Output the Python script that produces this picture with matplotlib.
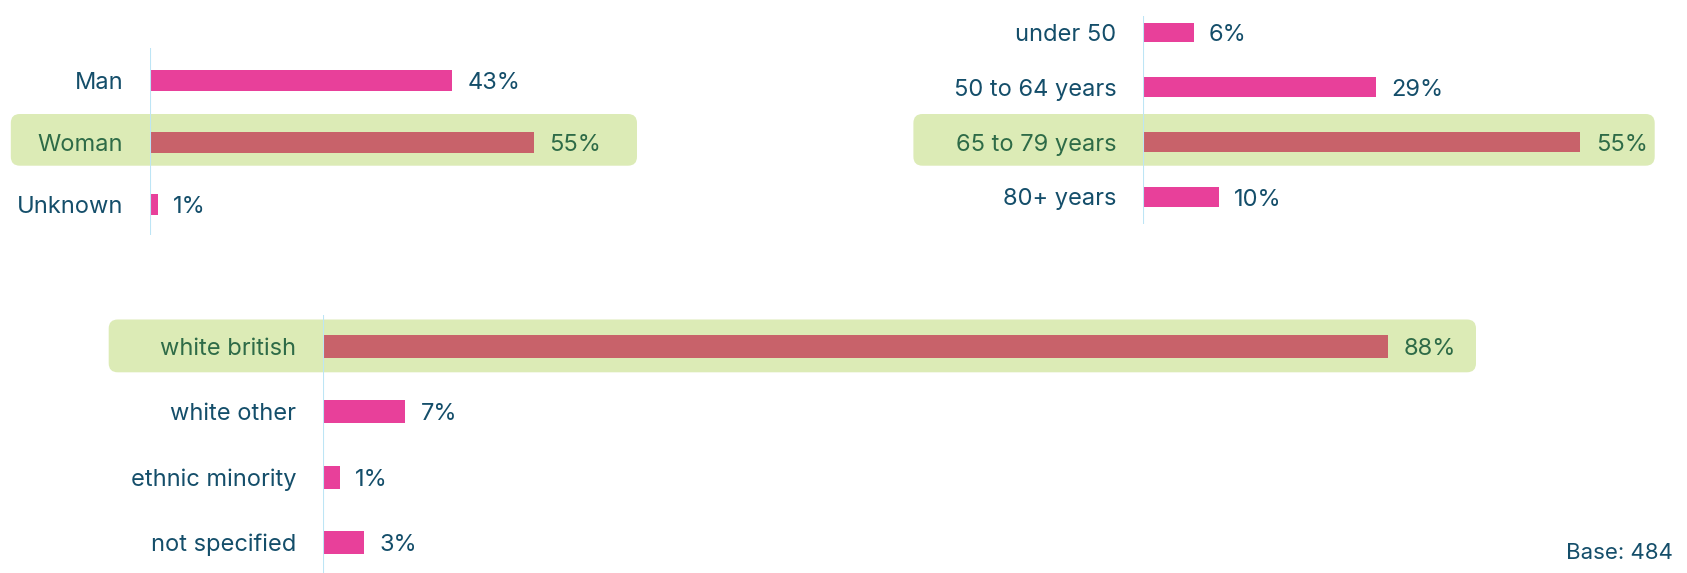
import matplotlib
matplotlib.use("Agg")
import matplotlib.pyplot as plt
from matplotlib.patches import FancyBboxPatch
from matplotlib.transforms import IdentityTransform

plt.rcParams['font.family'] = ['Inter', 'DejaVu Sans']

# ---- data ----
gender_cats = ["Man", "Woman", "Unknown"]
gender_vals = [43.2, 54.9, 1.2]
gender_hl = 1

age_cats = ["under 50", "50 to 64 years", "65 to 79 years", "80+ years"]
age_vals = [6.4, 29.3, 55.0, 9.6]
age_hl = 2

eth_cats = ["white british", "white other", "ethnic minority", "not specified"]
eth_vals = [88.0, 6.8, 1.4, 3.4]
eth_hl = 0

base_text = "Base: 484"

# ---- style ----
PINK = '#E8409A'
HLBAR = '#C8626A'
HLBG = '#DCEBB6'
TXT = '#144E6A'
HLTXT = '#2E6B47'
AXLINE = '#BDE5F5'
FS = 17

W, H = 1687, 573
fig = plt.figure(figsize=(W / 100, H / 100), dpi=100)


def panel(cats, vals, hl, L):
    n = len(cats)
    top, bot = L['axis_top'], L['axis_bot']
    left, right = L['axis_x'], L['hl_right']
    ax = fig.add_axes([left / W, 1 - bot / H, (right - left) / W, (bot - top) / H])
    ax.patch.set_visible(False)
    sp = L['sp']
    ax.set_xlim(0, (right - left) / L['ppp'])
    ymax = (n - 1) + (bot - (L['row0'] + (n - 1) * sp)) / sp
    ymin = -(L['row0'] - top) / sp
    ax.set_ylim(ymax, ymin)
    colors = [HLBAR if i == hl else PINK for i in range(n)]
    ax.barh(range(n), vals, height=L['bh'] / sp, color=colors, zorder=3)
    ax.axvline(0, color=AXLINE, lw=1.5, zorder=4)
    for s in ax.spines.values():
        s.set_visible(False)
    ax.set_xticks([])
    ax.set_yticks(range(n))
    ax.set_yticklabels(cats, fontsize=FS)
    ax.tick_params(axis='y', length=0, pad=19)
    for i, t in enumerate(ax.get_yticklabels()):
        t.set_color(HLTXT if i == hl else TXT)
    for i, v in enumerate(vals):
        ax.annotate(f"{round(v)}%", xy=(v, i), xytext=(11, -2),
                    textcoords='offset points', va='center', ha='left',
                    fontsize=FS, color=HLTXT if i == hl else TXT, zorder=5)
    # highlight band
    hb = FancyBboxPatch((L['hl_left'], H - L['hl_bot']),
                        L['hl_right'] - L['hl_left'], L['hl_bot'] - L['hl_top'],
                        boxstyle="round,pad=0,rounding_size=9",
                        transform=IdentityTransform(), facecolor=HLBG,
                        edgecolor='none', zorder=-1)
    fig.add_artist(hb)
    return ax


panel(gender_cats, gender_vals, gender_hl,
      dict(axis_x=149.6, ppp=7.0, row0=80.7, sp=61.9, axis_top=48.4, axis_bot=234.5,
           hl_left=10.8, hl_right=637, hl_top=114, hl_bot=165.7, bh=21.5))
panel(age_cats, age_vals, age_hl,
      dict(axis_x=1142.6, ppp=7.96, row0=32.3, sp=54.9, axis_top=16, axis_bot=224,
           hl_left=913.4, hl_right=1654.7, hl_top=114, hl_bot=165.7, bh=19.5))
panel(eth_cats, eth_vals, eth_hl,
      dict(axis_x=322.8, ppp=12.11, row0=346.4, sp=65.3, axis_top=315, axis_bot=573,
           hl_left=108.7, hl_right=1476, hl_top=319.5, hl_bot=372.3, bh=23))

fig.text(1673 / W, 1 - 553 / H, base_text, ha='right', va='center', fontsize=FS - 1, color=TXT)

fig.savefig("out.png", dpi=100)
